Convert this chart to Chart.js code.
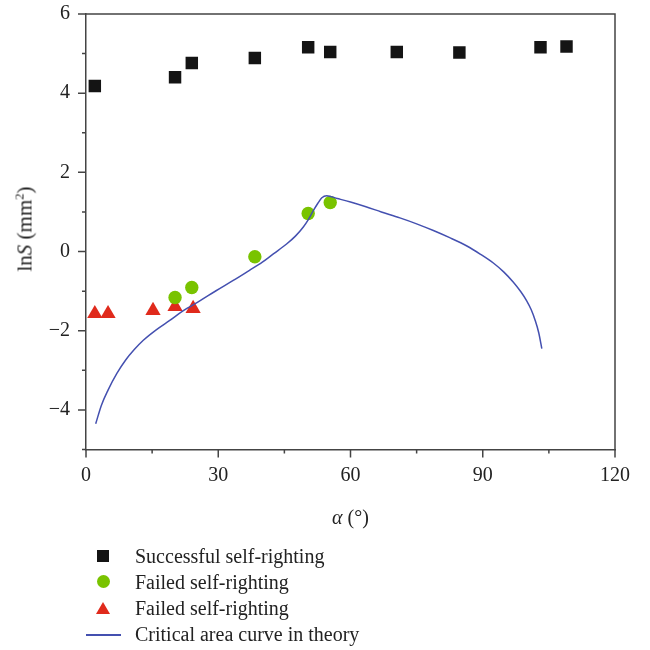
<!DOCTYPE html>
<html>
<head>
<meta charset="utf-8">
<script src="https://cdn.jsdelivr.net/npm/chart.js@4/dist/chart.umd.min.js"></script>
<style>
  body { margin: 0; background: #fff; }
  #wrap { position: relative; width: 650px; height: 650px; font-family: "Liberation Serif", serif; color: #222; }
  #chart { position: absolute; left: 0; top: 0; }
  .xtitle { position: absolute; left: 0; width: 701px; top: 506px; text-align: center; font-size: 20px; }
  .ytitle { position: absolute; left: 25px; top: 229px; font-size: 21px; white-space: nowrap;
            transform: translate(-50%, -50%) rotate(-90deg); }
  .legend { position: absolute; left: 86px; top: 543px; font-size: 20px; }
  .legend div { height: 26px; line-height: 26px; display: flex; align-items: center; }
  .legend span.mk { display: inline-block; width: 36px; height: 26px; position: relative; margin-right: 13px; }
  .sq { position: absolute; left: 11px; top: 7px; width: 12px; height: 12px; background: #141414; }
  .ci { position: absolute; left: 11px; top: 6px; width: 13px; height: 13px; border-radius: 50%; background: #79c300; }
  .tr { position: absolute; left: 10px; top: 7px; width: 0; height: 0; border-left: 7px solid transparent;
        border-right: 7px solid transparent; border-bottom: 12px solid #e02a1c; }
  .ln { position: absolute; left: 0; top: 13px; width: 35px; height: 1.5px; background: #4450b0; }
  sup { font-size: 0.6em; }
</style>
</head>
<body>
<div id="wrap">
  <canvas id="chart" width="650" height="650"></canvas>
  <div class="ytitle">ln<i>S</i> (mm<sup>2</sup>)</div>
  <div class="xtitle"><i>α</i> (°)</div>
  <div class="legend">
    <div><span class="mk"><span class="sq"></span></span>Successful self-righting</div>
    <div><span class="mk"><span class="ci"></span></span>Failed self-righting</div>
    <div><span class="mk"><span class="tr"></span></span>Failed self-righting</div>
    <div><span class="mk"><span class="ln"></span></span>Critical area curve in theory</div>
  </div>
</div>
<script>
// successful self-righting (squares)
const successAlpha = [2, 20.2, 24, 38.3, 50.4, 55.4, 70.5, 84.7, 103.1, 109];
const successLnS = [4.18, 4.4, 4.76, 4.89, 5.16, 5.04, 5.04, 5.03, 5.16, 5.18];

// failed self-righting (circles)
const failCircAlpha = [20.2, 24, 38.3, 50.4, 55.4];
const failCircLnS = [-1.16, -0.91, -0.13, 0.96, 1.24];

// failed self-righting (triangles)
const failTriAlpha = [2, 5, 15.2, 20.2, 24.3];
const failTriLnS = [-1.57, -1.57, -1.49, -1.39, -1.44];

// critical area curve in theory
const curveAlpha = [2.2, 3.5, 5, 7, 9, 11, 13, 16, 19, 22, 25.9, 29.5, 33.4, 37, 40, 42.5, 45.5, 47.5, 49.3, 50.5, 51.6, 52.6, 53.5, 54.6, 57, 60, 63.5, 67, 71.2, 75, 78.8, 82.5, 86.4, 89.5, 92.4, 94.8, 96.9, 98.6, 100, 101, 101.9, 102.7, 103.4];
const curveLnS = [-4.35, -3.88, -3.5, -3.08, -2.74, -2.47, -2.24, -1.97, -1.74, -1.5, -1.24, -0.99, -0.73, -0.48, -0.27, -0.06, 0.19, 0.39, 0.62, 0.82, 1.04, 1.22, 1.36, 1.41, 1.34, 1.25, 1.13, 1.0, 0.85, 0.7, 0.53, 0.35, 0.14, -0.07, -0.29, -0.52, -0.77, -1.01, -1.25, -1.47, -1.74, -2.05, -2.45];

const xTicks = [0, 15, 30, 45, 60, 75, 90, 105, 120];
const yTicks = [-5, -4, -3, -2, -1, 0, 1, 2, 3, 4, 5, 6];

const pts = (xs, ys) => xs.map((x, i) => ({ x: x, y: ys[i] }));

// draws tick marks (long on labelled ticks) plus top and right frame lines
const frame = {
  id: 'frame',
  afterDraw(chart) {
    const ctx = chart.ctx;
    const xs = chart.scales.x, ys = chart.scales.y;
    const a = chart.chartArea;
    ctx.save();
    ctx.strokeStyle = '#444';
    ctx.lineWidth = 1.5;
    ctx.beginPath();
    xTicks.forEach(v => {
      const px = xs.getPixelForValue(v);
      const len = v % 30 === 0 ? 8 : 4;
      ctx.moveTo(px, a.bottom);
      ctx.lineTo(px, a.bottom + len);
    });
    yTicks.forEach(v => {
      const py = ys.getPixelForValue(v);
      const len = v % 2 === 0 ? 8 : 4;
      ctx.moveTo(a.left, py);
      ctx.lineTo(a.left - len, py);
    });
    ctx.moveTo(a.left, a.top);
    ctx.lineTo(a.right, a.top);
    ctx.lineTo(a.right, a.bottom);
    ctx.stroke();
    ctx.restore();
  }
};

new Chart(document.getElementById('chart'), {
  type: 'scatter',
  data: {
    datasets: [
      {
        type: 'line',
        label: 'Critical area curve in theory',
        data: pts(curveAlpha, curveLnS),
        borderColor: '#4450b0',
        borderWidth: 1.5,
        pointRadius: 0,
        fill: false,
        cubicInterpolationMode: 'monotone',
        order: 0
      },
      {
        label: 'Successful self-righting',
        data: pts(successAlpha, successLnS),
        pointStyle: 'rect',
        pointRadius: 8.8,
        backgroundColor: '#141414',
        borderWidth: 0,
        order: 1
      },
      {
        label: 'Failed self-righting',
        data: pts(failCircAlpha, failCircLnS),
        pointStyle: 'circle',
        pointRadius: 6.7,
        backgroundColor: '#79c300',
        borderWidth: 0,
        order: 1
      },
      {
        label: 'Failed self-righting',
        data: pts(failTriAlpha, failTriLnS),
        pointStyle: 'triangle',
        pointRadius: 8.8,
        backgroundColor: '#e02a1c',
        borderWidth: 0,
        order: 1
      }
    ]
  },
  options: {
    responsive: false,
    animation: false,
    layout: { padding: { top: 14, right: 35, bottom: 150, left: 0 } },
    plugins: { legend: { display: false }, tooltip: { enabled: false } },
    scales: {
      x: {
        type: 'linear',
        min: 0,
        max: 120,
        afterFit: s => { s.height = 50.5; s.paddingLeft = 0; s.paddingRight = 0; },
        afterBuildTicks: s => { s.ticks = xTicks.map(v => ({ value: v })); },
        ticks: {
          autoSkip: false,
          maxRotation: 0,
          padding: 6,
          color: '#222',
          font: { family: 'Liberation Serif', size: 20 },
          callback: v => (v % 30 === 0 ? v : '')
        },
        grid: { drawOnChartArea: false, tickLength: 8, tickColor: 'rgba(0,0,0,0)' },
        border: { color: '#444', width: 1.5 }
      },
      y: {
        min: -5,
        max: 6,
        afterFit: s => { s.width = 86; s.paddingTop = 0; s.paddingBottom = 0; },
        afterBuildTicks: s => { s.ticks = yTicks.map(v => ({ value: v })); },
        ticks: {
          autoSkip: false,
          padding: 8,
          color: '#222',
          font: { family: 'Liberation Serif', size: 20 },
          callback: v => (v % 2 === 0 ? (v < 0 ? '\u2212' + Math.abs(v) : String(v)) : '')
        },
        grid: { drawOnChartArea: false, tickLength: 8, tickColor: 'rgba(0,0,0,0)' },
        border: { color: '#444', width: 1.5 }
      }
    }
  },
  plugins: [frame]
});
</script>
</body>
</html>
